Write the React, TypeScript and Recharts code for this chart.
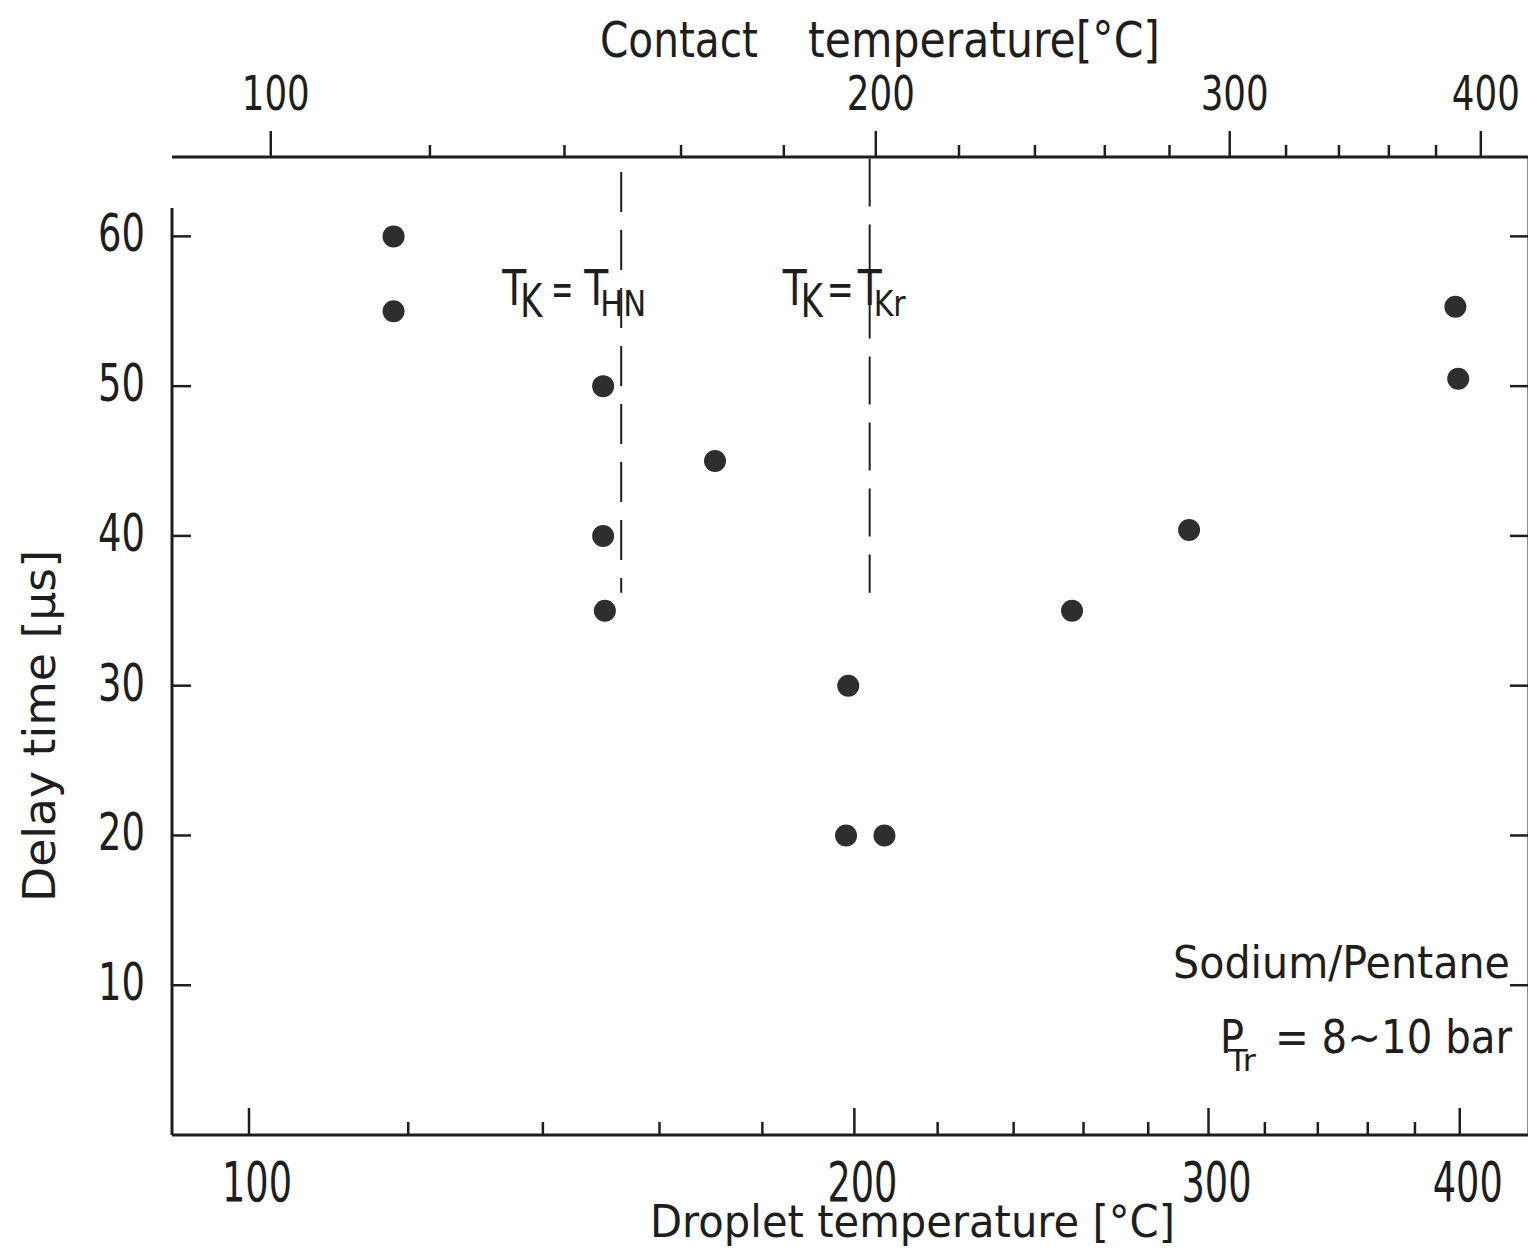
import React from 'react';
import { ScatterChart, Scatter, XAxis, YAxis, ReferenceLine, Label } from 'recharts';

// ---- data ----
const dropletTemp = [118, 118, 150, 150, 150.3, 170.5, 198.6, 198.1, 207, 256.6, 293.4, 398, 399.3];
const delayTime = [60, 55, 50, 40, 35, 45, 30, 20, 20, 35, 40.4, 55.3, 50.5];
const dropletTicks = [100, 120, 140, 160, 180, 200, 220, 240, 260, 280, 300, 320, 340, 360, 380, 400];
const contactTicks = [100, 120, 140, 160, 180, 200, 220, 240, 260, 280, 300, 320, 340, 360, 380, 400];
const majorTemps = [100, 200, 300, 400];
const delayTicks = [10, 20, 30, 40, 50, 60];
const tHomogeneousNucleation = 149.4; // contact temperature
const tCritical = 198.6; // contact temperature
const dashedLineBottom = 36.2;
const dashedLineTopHN = 64.3;
const dashedLineTopKr = 65.2;
const leftAxisTop = 61.9;

const DROPLET_DOMAIN: [number, number] = [91.56, 433];
const CONTACT_DOMAIN: [number, number] = [89.3, 422.7];
const DELAY_DOMAIN: [number, number] = [0, 65.3];

const points = dropletTemp.map((t, i) => ({ t, d: delayTime[i] }));
const criticalPoints = [
  { c: tHomogeneousNucleation, d: dashedLineBottom },
  { c: tCritical, d: dashedLineBottom },
];

const INK = '#1e1e1e';
const FONT = "'DejaVu Sans', sans-serif";

const txt = { fontFamily: FONT, fill: INK } as const;

const BottomTick = (props: any) => {
  const { x, y, payload } = props;
  const v = payload.value;
  const major = majorTemps.includes(v);
  return (
    <g>
      <line x1={x} y1={y} x2={x} y2={y - (major ? 27 : 13)} stroke={INK} strokeWidth={2.5} />
      {major && (
        <text x={x + 8} y={y + 66} textAnchor="middle" fontSize={55} textLength={70} lengthAdjust="spacingAndGlyphs" {...txt}>
          {v}
        </text>
      )}
    </g>
  );
};

const TopTick = (props: any) => {
  const { x, y, payload } = props;
  const v = payload.value;
  const major = majorTemps.includes(v);
  return (
    <g>
      <line x1={x} y1={y} x2={x} y2={y - (major ? 26 : 12)} stroke={INK} strokeWidth={2.5} />
      {major && (
        <text x={x + 5} y={y - 47} textAnchor="middle" fontSize={48} textLength={68} lengthAdjust="spacingAndGlyphs" {...txt}>
          {v}
        </text>
      )}
    </g>
  );
};

const LeftTick = (props: any) => {
  const { x, y, payload } = props;
  return (
    <g>
      <line x1={x} y1={y} x2={x + 19} y2={y} stroke={INK} strokeWidth={2.5} />
      <text x={x - 27 - 47} y={y + 15} fontSize={52} textLength={47} lengthAdjust="spacingAndGlyphs" {...txt}>
        {payload.value}
      </text>
    </g>
  );
};

const RightTick = (props: any) => {
  const { x, y } = props;
  return <line x1={x - 19} y1={y} x2={x} y2={y} stroke={INK} strokeWidth={2.5} />;
};

const Dot = (props: any) => <circle cx={props.cx} cy={props.cy} r={11} fill="#2e2e2e" />;
const NoMark = () => <g />;

const TopTitle = () => (
  <g>
    <text x={600} y={57} fontSize={50} textLength={158} lengthAdjust="spacingAndGlyphs" {...txt}>Contact</text>
    <text x={808} y={57} fontSize={50} textLength={352} lengthAdjust="spacingAndGlyphs" {...txt}>temperature[°C]</text>
  </g>
);

const BottomTitle = () => (
  <text x={650} y={1237} fontSize={44} textLength={525} lengthAdjust="spacingAndGlyphs" {...txt}>
    Droplet temperature [°C]
  </text>
);

const YTitle = () => (
  <text transform="translate(55,726) rotate(-90)" textAnchor="middle" fontSize={45} textLength={352} lengthAdjust="spacingAndGlyphs" {...txt}>
    Delay time [µs]
  </text>
);

const Annotation = () => (
  <g>
    <text x={1173} y={978} fontSize={45} textLength={337} lengthAdjust="spacingAndGlyphs" {...txt}>Sodium/Pentane</text>
    <text x={1220} y={1053} fontSize={46} textLength={24} lengthAdjust="spacingAndGlyphs" {...txt}>P</text>
    <text x={1228} y={1071} fontSize={30} textLength={28} lengthAdjust="spacingAndGlyphs" {...txt}>Tr</text>
    <text x={1275} y={1053} fontSize={46} textLength={237} lengthAdjust="spacingAndGlyphs" {...txt}>= 8~10 bar</text>
  </g>
);

const makeLineLabel = (sub: string, o: number[], subLen: number) => (props: any) => {
  const L = props.viewBox && Number.isFinite(props.viewBox.x) ? props.viewBox.x : 0;
  return (
    <g>
      <text x={L + o[0]} y={305} fontSize={50} textLength={24} lengthAdjust="spacingAndGlyphs" {...txt}>T</text>
      <text x={L + o[1]} y={317} fontSize={46} textLength={22} lengthAdjust="spacingAndGlyphs" {...txt}>K</text>
      <text x={L + o[2]} y={305} fontSize={46} textLength={o[5]} lengthAdjust="spacingAndGlyphs" {...txt}>=</text>
      <text x={L + o[3]} y={305} fontSize={50} textLength={24} lengthAdjust="spacingAndGlyphs" {...txt}>T</text>
      <text x={L + o[4]} y={316} fontSize={36} textLength={subLen} lengthAdjust="spacingAndGlyphs" {...txt}>{sub}</text>
    </g>
  );
};

export default function App() {
  return (
    <div style={{ position: 'absolute', left: 0, top: 0, width: 1528, height: 1251, overflow: 'hidden', background: '#fff' }}>
      <ScatterChart width={1530} height={1251} margin={{ top: 0, right: 0, bottom: 0, left: 0 }}>
        <XAxis
          xAxisId="bottom"
          orientation="bottom"
          height={116}
          type="number"
          scale="log"
          dataKey="t"
          domain={DROPLET_DOMAIN}
          allowDataOverflow
          ticks={dropletTicks}
          interval={0}
          tickSize={0}
          tickMargin={0}
          tickLine={false}
          axisLine={{ stroke: INK, strokeWidth: 3 }}
          tick={(p: any) => <BottomTick {...p} />}
        >
          <Label content={() => <BottomTitle />} />
        </XAxis>
        <XAxis
          xAxisId="top"
          orientation="top"
          height={157}
          type="number"
          scale="log"
          dataKey="c"
          domain={CONTACT_DOMAIN}
          allowDataOverflow
          ticks={contactTicks}
          interval={0}
          tickSize={0}
          tickMargin={0}
          tickLine={false}
          axisLine={{ stroke: INK, strokeWidth: 3 }}
          tick={(p: any) => <TopTick {...p} />}
        >
          <Label content={() => <TopTitle />} />
        </XAxis>
        <YAxis
          yAxisId="left"
          width={172}
          type="number"
          dataKey="d"
          domain={DELAY_DOMAIN}
          allowDataOverflow
          ticks={delayTicks}
          interval={0}
          tickSize={0}
          tickMargin={0}
          tickLine={false}
          axisLine={false}
          tick={(p: any) => <LeftTick {...p} />}
        >
          <Label content={() => <YTitle />} />
        </YAxis>
        <YAxis
          yAxisId="right"
          orientation="right"
          width={1}
          type="number"
          domain={DELAY_DOMAIN}
          allowDataOverflow
          ticks={delayTicks}
          interval={0}
          tickSize={0}
          tickMargin={0}
          tickLine={false}
          axisLine={{ stroke: INK, strokeWidth: 3 }}
          tick={(p: any) => <RightTick {...p} />}
        >
          <Label content={() => <Annotation />} />
        </YAxis>
        <ReferenceLine
          xAxisId="bottom"
          yAxisId="left"
          ifOverflow="visible"
          segment={[{ x: DROPLET_DOMAIN[0], y: leftAxisTop }, { x: DROPLET_DOMAIN[0], y: 0 }]}
          stroke={INK}
          strokeWidth={3}
        />
        <ReferenceLine
          xAxisId="top"
          yAxisId="left"
          ifOverflow="visible"
          segment={[{ x: tHomogeneousNucleation, y: dashedLineTopHN }, { x: tHomogeneousNucleation, y: dashedLineBottom }]}
          stroke={INK}
          strokeWidth={2}
          strokeDasharray="40 18"
          label={makeLineLabel('HN', [-119, -101, -70, -37, -21, 22], 46)}
        />
        <ReferenceLine
          xAxisId="top"
          yAxisId="left"
          ifOverflow="visible"
          segment={[{ x: tCritical, y: dashedLineTopKr }, { x: tCritical, y: dashedLineBottom }]}
          stroke={INK}
          strokeWidth={2}
          strokeDasharray="48 18"
          label={makeLineLabel('Kr', [-87, -69, -43, -12, 4, 27], 32)}
        />
        <Scatter data={criticalPoints} xAxisId="top" yAxisId="left" isAnimationActive={false} shape={() => <NoMark />} />
        <Scatter data={points} xAxisId="bottom" yAxisId="left" isAnimationActive={false} shape={(p: any) => <Dot {...p} />} />
      </ScatterChart>
    </div>
  );
}
